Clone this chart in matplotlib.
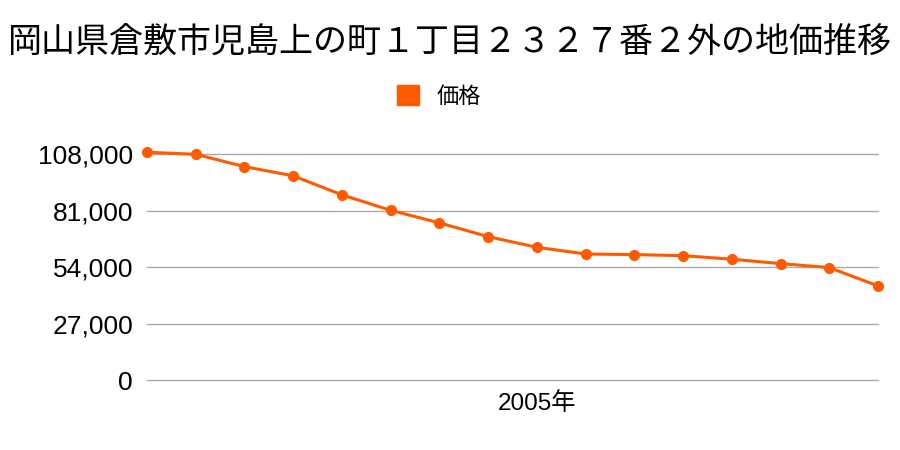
import matplotlib
matplotlib.use("Agg")
import matplotlib.pyplot as plt
from matplotlib.patches import Patch
from matplotlib.ticker import FuncFormatter, FixedLocator

plt.rcParams['font.family'] = ['Liberation Sans', 'Noto Sans CJK JP', 'DejaVu Sans']

title = "岡山県倉敷市児島上の町１丁目２３２７番２外の地価推移"
series_name = "価格"
years = list(range(1997, 2013))
prices = [109000, 108000, 102100, 97700, 88600, 81200, 75200, 68600,
          63500, 60300, 60000, 59500, 57800, 55700, 53800, 45000]
yticks = [0, 27000, 54000, 81000, 108000]
xlabel_year = 2005
color = '#ff5a00'

fig = plt.figure(figsize=(9, 4.5), dpi=100)
ax = fig.add_axes([147/900, 1-380/450, (878-147)/900, (380-140)/450])

xs = list(range(len(years)))
ax.plot(xs, prices, color=color, lw=2.2, marker='o', ms=7, zorder=3, clip_on=False)

ax.set_xlim(0, len(years)-1)
ax.set_ylim(0, 108000*(380-140)/(380-154.3))
ax.yaxis.set_major_locator(FixedLocator(yticks))
ax.yaxis.set_major_formatter(FuncFormatter(lambda v, p: f"{int(v):,}"))
ax.grid(axis='y', color='#aaaaaa', lw=1)
for gl in ax.get_ygridlines():
    gl.set_clip_on(False)
ax.set_axisbelow(True)
for s in ax.spines.values():
    s.set_visible(False)
ax.tick_params(axis='y', length=0, pad=10, labelsize=19)
idx = years.index(xlabel_year)
ax.set_xticks([idx])
ax.set_xticklabels([f"{xlabel_year}年"], fontsize=17.5)
ax.tick_params(axis='x', length=0, pad=9)

fig.text(0.5, 1-43/450, title, ha='center', va='center', fontsize=24.5,
         family=['Noto Sans CJK JP', 'DejaVu Sans'])
fig.legend(handles=[Patch(color=color, label=series_name)], loc='center',
           bbox_to_anchor=(439/900, 1-96/450), frameon=False,
           handlelength=1.0, handleheight=1.0, handletextpad=0.8,
           prop={'family': ['Noto Sans CJK JP', 'DejaVu Sans'], 'size': 16})

fig.savefig("out.png", dpi=100)
